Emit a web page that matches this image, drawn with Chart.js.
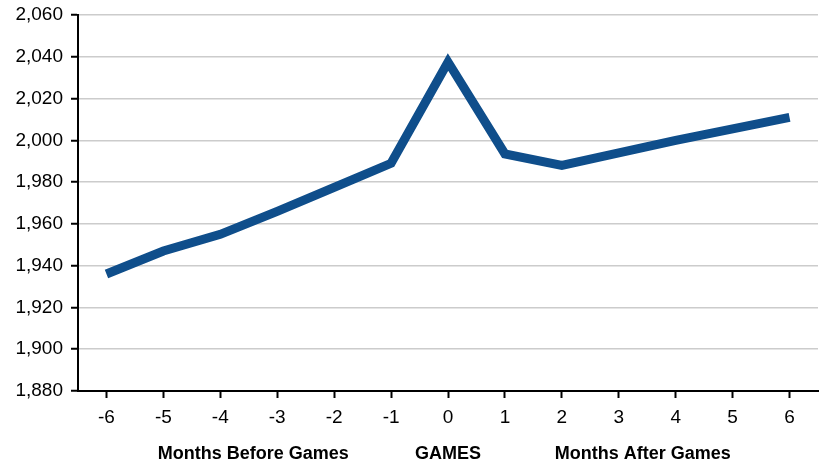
<!DOCTYPE html>
<html>
<head>
<meta charset="utf-8">
<script src="https://cdn.jsdelivr.net/npm/chart.js@4/dist/chart.umd.min.js"></script>
<style>
  html, body { margin: 0; padding: 0; background: #fff; }
  #wrap { width: 823px; height: 465px; }
</style>
</head>
<body>
<div id="wrap"><canvas id="chart"></canvas></div>
<script>
// data
const months = ["-6", "-5", "-4", "-3", "-2", "-1", "0", "1", "2", "3", "4", "5", "6"];
const values = [1936, 1947, 1955, 1966, 1977.5, 1989, 2037.5, 1993.5, 1988, 1994, 2000, 2005.5, 2011];
const groupLabels = ["Months Before Games", "GAMES", "Months After Games"];
const groupAt = [2.58, 6, 9.42]; // category index under each group label

Chart.defaults.font.family = "'Liberation Sans', Arial, Helvetica, sans-serif";
Chart.defaults.font.size = 19;
Chart.defaults.color = "#000";

// bold group captions under the x axis
const groupPlugin = {
  id: "groups",
  afterDraw(chart) {
    const c = chart.ctx;
    const x = chart.scales.x;
    c.save();
    c.font = "bold 18px 'Liberation Sans', Arial, sans-serif";
    c.fillStyle = "#000";
    c.textAlign = "center";
    c.textBaseline = "middle";
    groupLabels.forEach((t, i) => {
      c.fillText(t, x.getPixelForValue(groupAt[i]), 454);
    });
    c.restore();
  }
};

new Chart(document.getElementById("chart"), {
  type: "line",
  data: {
    labels: months,
    datasets: [{
      data: values,
      borderColor: "#0f4e8b",
      borderWidth: 9,
      borderJoinStyle: "miter",
      borderCapStyle: "butt",
      pointRadius: 0,
      tension: 0,
      fill: false
    }]
  },
  options: {
    responsive: true,
    maintainAspectRatio: false,
    animation: false,
    layout: { padding: { top: 15, right: 5, left: 0, bottom: 0 } },
    plugins: { legend: { display: false }, tooltip: { enabled: false } },
    scales: {
      x: {
        offset: true,
        grid: { drawOnChartArea: false, tickColor: "#000", tickLength: 7, tickWidth: 2, offset: false },
        border: { color: "#000", width: 2 },
        ticks: { padding: 8, maxRotation: 0 },
        afterFit: (s) => { s.height = 74; }
      },
      y: {
        min: 1880,
        max: 2060,
        grid: { color: "#cccccc", lineWidth: 1.5, tickColor: "#000", tickLength: 7, tickWidth: 2 },
        border: { color: "#000", width: 2 },
        ticks: {
          stepSize: 20,
          padding: 8,
          callback: (v) => v.toLocaleString("en-US")
        },
        afterFit: (s) => { s.width = 78; s.paddingTop = 0; s.paddingBottom = 0; }
      }
    }
  },
  plugins: [groupPlugin]
});
</script>
</body>
</html>
